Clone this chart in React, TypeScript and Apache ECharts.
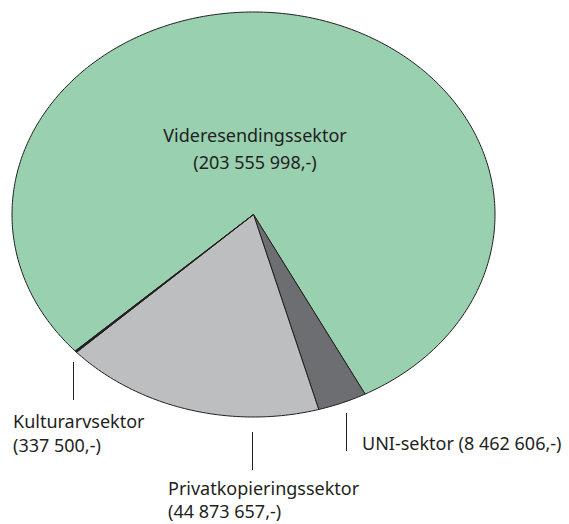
import React, { useEffect, useRef } from "react";
import * as echarts from "echarts";

const names = ["Videresendingssektor", "UNI-sektor", "Privatkopieringssektor", "Kulturarvsektor"];
const values = [203555998, 8462606, 44873657, 337500];
const colors = ["#98D0B0", "#6D6E71", "#BCBEC0", "#231F20"];

const fmt = (v: number) => String(v).replace(/\B(?=(\d{3})+(?!\d))/g, " ") + ",-";

export default function App() {
  const ref = useRef<HTMLDivElement>(null);
  useEffect(() => {
    if (!ref.current) return;
    const chart = echarts.init(ref.current, undefined, { renderer: "svg" });
    const total = values.reduce((a, b) => a + b, 0);
    const cum: number[] = [];
    values.reduce((acc, v, i) => {
      cum[i] = acc;
      return acc + v;
    }, 0);
    const cx = 253.5, cy = 214.5, rx = 241.5, ry = 202.5;
    const startAngle = (137.6 * Math.PI) / 180;
    const ink = "#231F20";
    const font = '18px "Noto Sans", sans-serif';

    chart.setOption({
      animation: false,
      series: [
        {
          type: "custom",
          coordinateSystem: "none",
          z: 1,
          data: values.map((v, i) => ({ value: v, name: names[i] })),
          renderItem: (params: any, api: any) => {
            const i = params.dataIndex;
            const v = api.value(0);
            const a0 = startAngle + (cum[i] / total) * Math.PI * 2;
            const a1 = a0 + (v / total) * Math.PI * 2;
            const n = Math.max(2, Math.ceil(((a1 - a0) / (Math.PI * 2)) * 400));
            const pts: number[][] = [[cx, cy]];
            for (let k = 0; k <= n; k++) {
              const a = a0 + ((a1 - a0) * k) / n;
              pts.push([cx + rx * Math.cos(a), cy + ry * Math.sin(a)]);
            }
            return {
              type: "polygon",
              shape: { points: pts },
              style: { fill: colors[i], stroke: ink, lineWidth: 1, lineJoin: "round" },
            };
          },
        },
      ],
      graphic: [
        {
          type: "text",
          z: 100,
          x: 255,
          y: 148.5,
          style: {
            text: names[0] + "\n(" + fmt(values[0]) + ")",
            font,
            fill: ink,
            textAlign: "center",
            textVerticalAlign: "middle",
            lineHeight: 27,
          },
        },
        {
          type: "text",
          z: 100,
          x: 362,
          y: 443,
          style: {
            text: names[1] + " (" + fmt(values[1]) + ")",
            font,
            fill: ink,
            textAlign: "left",
            textVerticalAlign: "middle",
          },
        },
        {
          type: "text",
          z: 100,
          x: 168,
          y: 499.5,
          style: {
            text: names[2] + "\n(" + fmt(values[2]) + ")",
            font,
            fill: ink,
            textAlign: "left",
            textVerticalAlign: "middle",
            lineHeight: 23,
          },
        },
        {
          type: "text",
          z: 100,
          x: 13,
          y: 433,
          style: {
            text: names[3] + "\n(" + fmt(values[3]) + ")",
            font,
            fill: ink,
            textAlign: "left",
            textVerticalAlign: "middle",
            lineHeight: 24,
          },
        },
        { type: "line", z: 100, shape: { x1: 73.5, y1: 362, x2: 73.5, y2: 400 }, style: { stroke: ink, lineWidth: 1 } },
        { type: "line", z: 100, shape: { x1: 252.5, y1: 432, x2: 252.5, y2: 470 }, style: { stroke: ink, lineWidth: 1 } },
        { type: "line", z: 100, shape: { x1: 346.5, y1: 413, x2: 346.5, y2: 451 }, style: { stroke: ink, lineWidth: 1 } },
      ],
    });
    return () => chart.dispose();
  }, []);
  return (
    <div
      ref={ref}
      style={{ position: "absolute", left: 0, top: 0, width: 569, height: 524, background: "#fff" }}
    />
  );
}
